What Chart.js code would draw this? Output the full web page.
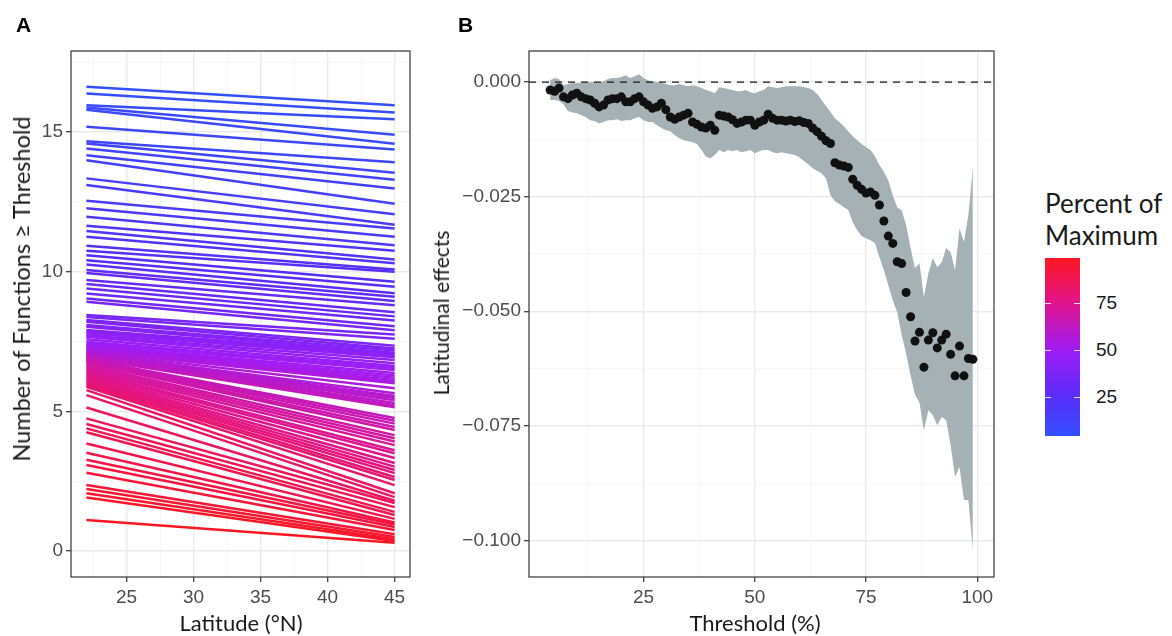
<!DOCTYPE html>
<html><head><meta charset="utf-8">
<script src="https://cdn.jsdelivr.net/npm/chart.js@4.4.1/dist/chart.umd.min.js"></script>
<style>
html,body{margin:0;padding:0;background:#fff;}
#wrap{position:relative;width:1172px;height:636px;overflow:hidden;background:#fff;}
#cA{position:absolute;left:0;top:0;}
#cB{position:absolute;left:420px;top:0;}
.ttl{position:absolute;white-space:nowrap;font-family:Lato,"Open Sans",sans-serif;font-size:22px;line-height:26px;color:#1a1a1a;transform:translate(-50%,-50%);}
.yt{transform:translate(-50%,-50%) rotate(-90deg);}
.pnl{position:absolute;font-family:"Liberation Sans",Arial,sans-serif;font-weight:bold;font-size:21px;line-height:21px;color:#000;}
#legTitle{position:absolute;left:1045px;top:187px;font-family:Lato,"Open Sans",sans-serif;font-size:26px;line-height:32px;color:#1a1a1a;white-space:nowrap;}
#legBar{position:absolute;left:1045px;top:258px;width:35px;height:178px;}
.legLab{position:absolute;left:1096px;font-family:"Liberation Sans",Arial,sans-serif;font-size:19px;line-height:20px;color:#1a1a1a;transform:translateY(-50%);}
.legTick{position:absolute;width:6px;height:1px;background:rgba(255,255,255,0.8);}
</style></head><body>
<div id="wrap">
<canvas id="cA" width="420" height="636"></canvas>
<canvas id="cB" width="584" height="636"></canvas>
<div class="pnl" style="left:16px;top:14px">A</div>
<div class="pnl" style="left:458px;top:14px">B</div>
<div class="ttl yt" style="left:21px;top:289px;font-size:23.5px">Number of Functions ≥ Threshold</div>
<div class="ttl" style="left:241px;top:623px">Latitude (°N)</div>
<div class="ttl yt" style="left:441px;top:313px;font-size:21px">Latitudinal effects</div>
<div class="ttl" style="left:755px;top:623px">Threshold (%)</div>
<div id="legTitle">Percent of<br>Maximum</div>
<div id="legBar"></div>
</div>
<script>
// ---------------- data ----------------
const latitudes = [22, 45];
const thresholds = [
  4,5,6,7,8,9,10,11,12,13,
  14,15,16,17,18,19,20,21,22,23,
  24,25,26,27,28,29,30,31,32,33,
  34,35,36,37,38,39,40,41,42,43,
  44,45,46,47,48,49,50,51,52,53,
  54,55,56,57,58,59,60,61,62,63,
  64,65,66,67,68,69,70,71,72,73,
  74,75,76,77,78,79,80,81,82,83,
  84,85,86,87,88,89,90,91,92,93,
  94,95,96,97,98,99];
// Panel A: number of functions >= threshold at the two ends of the latitude range
const functionsAt22 = [
  16.62,16.38,15.96,15.88,15.80,15.19,14.67,14.59,14.41,14.17,
  13.99,13.34,13.10,12.54,12.27,11.97,11.64,11.46,11.25,10.93,
  10.75,10.59,10.41,10.26,10.06,9.95,9.70,9.56,9.40,9.22,
  9.04,8.92,8.45,8.38,8.27,8.21,8.09,8.03,7.91,7.85,
  7.80,7.72,7.67,7.58,7.49,7.43,7.37,7.33,7.28,7.24,
  7.20,7.16,7.12,7.08,7.05,7.02,6.99,6.96,6.93,6.90,
  6.87,6.84,6.80,6.76,6.73,6.66,6.60,6.54,6.48,6.42,
  6.36,6.30,6.24,6.18,6.12,6.06,6.00,5.94,5.88,5.76,
  5.58,5.14,4.75,4.55,4.39,4.25,3.85,3.52,3.27,3.08,
  2.80,2.36,2.22,2.07,1.92,1.11];
const functionsAt45 = [
  15.96,15.70,15.46,14.90,14.58,14.37,13.92,13.54,13.29,12.98,
  12.43,12.06,11.68,11.55,11.25,10.95,10.75,10.44,10.30,10.08,
  10.00,9.64,9.46,9.23,9.10,8.95,8.80,8.55,8.40,8.25,
  8.05,7.90,7.75,7.60,7.35,7.25,7.18,7.10,7.05,7.00,
  6.94,6.84,6.72,6.62,6.55,6.48,6.37,6.28,6.20,6.12,
  6.05,6.01,5.83,5.65,5.55,5.48,5.40,5.30,5.22,5.15,
  4.76,4.66,4.56,4.44,4.33,4.15,4.04,3.92,3.79,3.61,
  3.50,3.33,3.15,3.02,2.90,2.79,2.65,2.54,2.36,2.07,
  1.93,1.80,1.72,1.57,1.40,1.29,1.15,1.02,0.95,0.86,
  0.75,0.60,0.50,0.42,0.36,0.30];
// Panel B: latitudinal effect per threshold with confidence band
const latEffect = [
  -0.0017,-0.0020,-0.0013,-0.0032,-0.0036,-0.0028,-0.0024,-0.0032,-0.0036,-0.0039,
  -0.0046,-0.0054,-0.0050,-0.0039,-0.0036,-0.0036,-0.0032,-0.0043,-0.0043,-0.0036,
  -0.0032,-0.0043,-0.0050,-0.0057,-0.0054,-0.0046,-0.0060,-0.0076,-0.0081,-0.0076,
  -0.0072,-0.0068,-0.0087,-0.0092,-0.0098,-0.0100,-0.0094,-0.0105,-0.0072,-0.0074,
  -0.0076,-0.0082,-0.0090,-0.0087,-0.0083,-0.0083,-0.0094,-0.0087,-0.0083,-0.0070,
  -0.0079,-0.0083,-0.0083,-0.0085,-0.0083,-0.0086,-0.0084,-0.0088,-0.0090,-0.0100,
  -0.0108,-0.0118,-0.0128,-0.0134,-0.0176,-0.0181,-0.0183,-0.0186,-0.0212,-0.0225,
  -0.0234,-0.0242,-0.0240,-0.0247,-0.0268,-0.0303,-0.0336,-0.0352,-0.0392,-0.0396,
  -0.0459,-0.0512,-0.0565,-0.0546,-0.0622,-0.0563,-0.0547,-0.0580,-0.0563,-0.0550,
  -0.0594,-0.0641,-0.0576,-0.0641,-0.0603,-0.0605];
const ciUpper = [
  0.0004,0.0009,0.0007,-0.0007,-0.0004,-0.0002,-0.0002,-0.0002,0.0000,0.0000,
  0.0000,-0.0002,0.0002,0.0007,0.0009,0.0009,0.0011,0.0015,0.0009,0.0013,
  0.0017,0.0009,0.0004,0.0002,0.0000,-0.0002,-0.0004,-0.0007,-0.0007,-0.0004,
  -0.0007,-0.0009,-0.0007,-0.0009,-0.0013,-0.0017,-0.0020,-0.0024,-0.0011,-0.0013,
  -0.0015,-0.0017,-0.0020,-0.0020,-0.0017,-0.0022,-0.0024,-0.0020,-0.0017,-0.0009,
  -0.0011,-0.0013,-0.0011,-0.0009,-0.0009,-0.0009,-0.0009,-0.0011,-0.0013,-0.0017,
  -0.0026,-0.0039,-0.0052,-0.0065,-0.0079,-0.0087,-0.0096,-0.0107,-0.0118,-0.0127,
  -0.0135,-0.0142,-0.0148,-0.0162,-0.0181,-0.0196,-0.0214,-0.0247,-0.0273,-0.0280,
  -0.0312,-0.0362,-0.0406,-0.0395,-0.0469,-0.0417,-0.0384,-0.0404,-0.0393,-0.0362,
  -0.0371,-0.0410,-0.0319,-0.0349,-0.0290,-0.0186];
const ciLower = [
  -0.0039,-0.0039,-0.0041,-0.0048,-0.0063,-0.0066,-0.0068,-0.0072,-0.0076,-0.0083,
  -0.0085,-0.0090,-0.0087,-0.0083,-0.0083,-0.0081,-0.0085,-0.0083,-0.0083,-0.0079,
  -0.0076,-0.0083,-0.0087,-0.0087,-0.0094,-0.0100,-0.0105,-0.0107,-0.0116,-0.0122,
  -0.0127,-0.0129,-0.0131,-0.0135,-0.0148,-0.0162,-0.0166,-0.0159,-0.0148,-0.0153,
  -0.0148,-0.0151,-0.0148,-0.0153,-0.0151,-0.0148,-0.0155,-0.0151,-0.0148,-0.0148,
  -0.0153,-0.0155,-0.0153,-0.0155,-0.0157,-0.0159,-0.0164,-0.0172,-0.0179,-0.0188,
  -0.0194,-0.0199,-0.0210,-0.0247,-0.0260,-0.0266,-0.0273,-0.0279,-0.0306,-0.0323,
  -0.0336,-0.0341,-0.0345,-0.0351,-0.0382,-0.0410,-0.0443,-0.0476,-0.0502,-0.0552,
  -0.0592,-0.0640,-0.0683,-0.0699,-0.0760,-0.0716,-0.0727,-0.0749,-0.0731,-0.0738,
  -0.0792,-0.0862,-0.0840,-0.0912,-0.0912,-0.1022];
// tick values
const aXMajor = [25,30,35,40,45], aXMinor = [22.5,27.5,32.5,37.5,42.5];
const aYMajor = [0,5,10,15], aYMinor = [2.5,7.5,12.5,17.5];
const bXMajor = [25,50,75,100], bXMinor = [12.5,37.5,62.5,87.5];
const bYMajor = [0,-0.025,-0.05,-0.075,-0.1], bYMinor = [-0.0125,-0.0375,-0.0625,-0.0875];
const legendTicks = [25,50,75];

// ---------------- styling helpers ----------------
const colourStops = [[0,[45,85,255]],[25,[88,45,250]],[50,[160,28,245]],[75,[225,20,140]],[100,[255,22,30]]];
function colourFor(v){
  for(let i=0;i<colourStops.length-1;i++){
    const [a,ca]=colourStops[i],[b,cb]=colourStops[i+1];
    if(v<=b){const f=(v-a)/(b-a);const c=ca.map((x,k)=>Math.round(x+(cb[k]-x)*f));return `rgb(${c[0]},${c[1]},${c[2]})`;}
  }
  const c=colourStops[colourStops.length-1][1];return `rgb(${c[0]},${c[1]},${c[2]})`;
}
const tickFont = {family:'"Liberation Sans", Arial, sans-serif', size:19};
const tickColour = '#4d4d4d';
function makeAxis(min,max,major,minor,fmt,isY){
  const majorSet = new Set(major);
  return {
    type:'linear', min, max,
    afterBuildTicks(scale){ scale.ticks = major.concat(minor).sort((p,q)=>p-q).map(v=>({value:v})); },
    afterFit(scale){ if(isY) scale.width = isY; else scale.height = 59; },
    ticks:{ autoSkip:false, maxRotation:0, minRotation:0, includeBounds:false, padding: isY?3:4,
      font: tickFont, color: tickColour,
      callback:(v)=> majorSet.has(v) ? fmt(v) : '' },
    grid:{ drawOnChartArea:true, drawTicks:true, tickLength:5,
      color:(c)=> (c.tick && majorSet.has(c.tick.value)) ? '#e9ebeb' : '#f3f4f4',
      lineWidth:(c)=> (c.tick && majorSet.has(c.tick.value)) ? 1.4 : 0.8,
      tickColor:(c)=> (c.tick && majorSet.has(c.tick.value)) ? '#333333' : 'rgba(0,0,0,0)',
      tickWidth:1.2 },
    border:{display:false}
  };
}
const frame = { id:'frame', afterDraw(chart){ const {ctx, chartArea:a}=chart; ctx.save(); ctx.strokeStyle='#333333'; ctx.lineWidth=1.2; ctx.strokeRect(a.left,a.top,a.right-a.left,a.bottom-a.top); ctx.restore(); } };
const zeroLine = { id:'zeroLine', afterDatasetsDraw(chart){ const {ctx, chartArea:a}=chart; const y=chart.scales.y.getPixelForValue(0); ctx.save(); ctx.beginPath(); ctx.rect(a.left,a.top,a.right-a.left,a.bottom-a.top); ctx.clip(); ctx.strokeStyle='#1a1a1a'; ctx.lineWidth=1.3; ctx.setLineDash([7,6]); ctx.beginPath(); ctx.moveTo(a.left,y); ctx.lineTo(a.right,y); ctx.stroke(); ctx.restore(); } };

// ---------------- Panel A ----------------
new Chart(document.getElementById('cA'), {
  type:'line',
  data:{ datasets: thresholds.map((t,i)=>({
    data:[{x:latitudes[0],y:functionsAt22[i]},{x:latitudes[1],y:functionsAt45[i]}],
    borderColor: colourFor(t), borderWidth:2.5, pointRadius:0, tension:0, fill:false, order:-t })) },
  options:{
    responsive:false, animation:false, devicePixelRatio:1,
    layout:{padding:{left:0,top:51,right:10,bottom:0}},
    plugins:{legend:{display:false}, tooltip:{enabled:false}},
    scales:{
      x: makeAxis(20.85,46.15,aXMajor,aXMinor,(v)=>String(v),0),
      y: makeAxis(-0.93,17.9,aYMajor,aYMinor,(v)=>String(v),71)
    }
  },
  plugins:[frame]
});

// ---------------- Panel B ----------------
const fmtB = (v)=> v===0 ? '0.000' : '\u2212' + Math.abs(v).toFixed(3);
new Chart(document.getElementById('cB'), {
  type:'line',
  data:{ datasets:[
    { data: thresholds.map((t,i)=>({x:t,y:latEffect[i]})), showLine:false, pointRadius:4.5, pointBackgroundColor:'#111111', pointBorderWidth:0, fill:false },
    { data: thresholds.map((t,i)=>({x:t,y:ciUpper[i]})), borderWidth:0, pointRadius:0, tension:0, fill:'+1', backgroundColor:'rgb(166,177,181)', borderColor:'rgba(0,0,0,0)' },
    { data: thresholds.map((t,i)=>({x:t,y:ciLower[i]})), borderWidth:0, pointRadius:0, tension:0, fill:false, borderColor:'rgba(0,0,0,0)' }
  ]},
  options:{
    responsive:false, animation:false, devicePixelRatio:1,
    layout:{padding:{left:0,top:51,right:10,bottom:0}},
    plugins:{legend:{display:false}, tooltip:{enabled:false}},
    scales:{
      x: makeAxis(-0.75,103.75,bXMajor,bXMinor,(v)=>String(v),0),
      y: makeAxis(-0.1080,0.0068,bYMajor,bYMinor,fmtB,109)
    }
  },
  plugins:[frame, zeroLine]
});

// ---------------- colour legend ----------------
(function(){
  const lo = thresholds[0], hi = thresholds[thresholds.length-1];
  const bar = document.getElementById('legBar');
  const parts = [];
  for(let v=lo; v<=hi; v+=5){ parts.push(colourFor(v)+' '+((v-lo)/(hi-lo)*100).toFixed(1)+'%'); }
  parts.push(colourFor(hi)+' 100%');
  bar.style.background = 'linear-gradient(to top,'+parts.join(',')+')';
  const wrap = document.getElementById('wrap');
  const top = 258, h = 178;
  legendTicks.forEach(v=>{
    const y = top + h - (v-lo)/(hi-lo)*h;
    const lab = document.createElement('div'); lab.className='legLab'; lab.style.top=y+'px'; lab.textContent=String(v); wrap.appendChild(lab);
    const t1 = document.createElement('div'); t1.className='legTick'; t1.style.left='1045px'; t1.style.top=y+'px'; wrap.appendChild(t1);
    const t2 = document.createElement('div'); t2.className='legTick'; t2.style.left='1074px'; t2.style.top=y+'px'; wrap.appendChild(t2);
  });
})();
</script>
</body></html>
